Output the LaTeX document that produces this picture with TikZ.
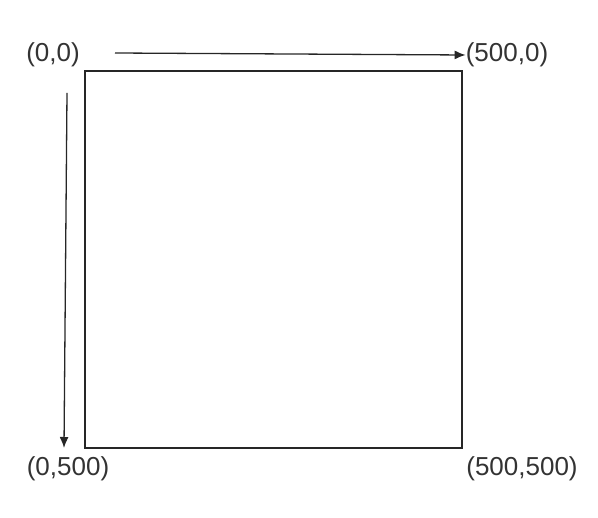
\documentclass[tikz,border=0pt]{standalone}
\usepackage{fontspec}
\setmainfont{Liberation Sans}
\usetikzlibrary{arrows.meta, positioning}

\begin{document}
\begin{tikzpicture}[
    x=1pt, y=-1pt,
    lbl/.style={inner sep=0pt, text=black!80, font=\fontsize{26}{30}\selectfont},
    axis/.style={-{Latex[length=11pt, width=9pt]}, line width=1.3pt, black!85},
    frame/.style={draw=black!85, line width=1.6pt}
]
\useasboundingbox (0,0) rectangle (598,518);
\node[lbl] (o)  at ( 53, 55) {(0,0)};
\node[lbl] (tr) at (507, 55) {(500,0)};
\node[lbl] (bl) at ( 68,469) {(0,500)};
\node[lbl] (br) at (522,469) {(500,500)};

\draw[frame] (85,71) rectangle (462,448);

\coordinate (hx) at (115,53);
\coordinate (vy) at (67,93);
\coordinate (vb) at (64,448);
\draw[axis] (hx) -- (tr.west);
\draw[axis] (vy) -- (vb);
\end{tikzpicture}
\end{document}
